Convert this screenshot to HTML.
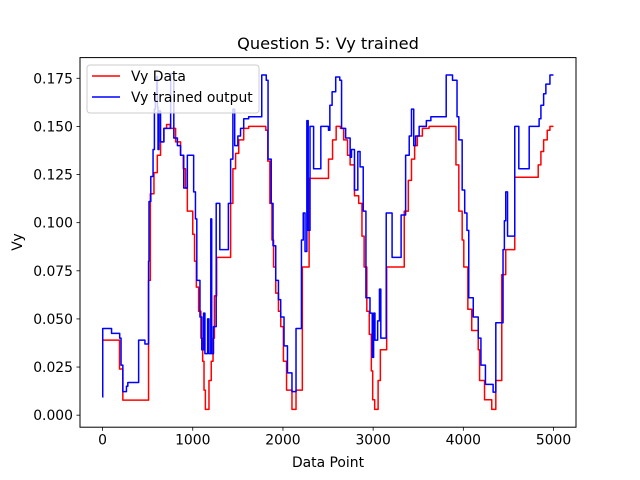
<!DOCTYPE html>
<html><head><meta charset="utf-8"><style>
body{margin:0;background:#fff}
svg{display:block;font-family:"DejaVu Sans","Liberation Sans",sans-serif}
</style></head><body>
<svg id="chart" width="640" height="480">
<rect width="640" height="480" fill="#fff"/>
<text x="328" y="49" font-size="16.2" text-anchor="middle">Question 5: Vy trained</text>
<g id="series"></g>
<g id="axes"></g>
<rect x="80" y="57.6" width="496" height="369.6" fill="none" stroke="#000" stroke-width="1"/>
<text x="328" y="467" font-size="13.9" text-anchor="middle">Data Point</text>
<text x="22" y="242" font-size="13.9" text-anchor="middle" transform="rotate(-90 22 242)">Vy</text>
<g>
<rect x="87" y="65" width="172" height="48" rx="3" fill="#fff" fill-opacity="0.8" stroke="#ccc"/>
<line x1="92" y1="76" x2="120" y2="76" stroke="red" stroke-width="1.5"/>
<text x="131" y="81" font-size="13.9">Vy Data</text>
<line x1="92" y1="97" x2="120" y2="97" stroke="blue" stroke-width="1.5"/>
<text x="131" y="102" font-size="13.9">Vy trained output</text>
</g>
</svg>
<script>
const xTicks=[0,1000,2000,3000,4000,5000];
const yTicks=[0,0.025,0.05,0.075,0.1,0.125,0.15,0.175];
const yTickLabels=["0.000","0.025","0.050","0.075","0.100","0.125","0.150","0.175"];
const redX=[0,188,225,510,530,570,607,643,680,710,750,810,865,895,920,940,1000,1020,1040,1065,1090,1110,1125,1140,1180,1205,1225,1240,1265,1420,1445,1475,1510,1565,1620,1810,1832,1855,1878,1896,1920,1950,1976,2005,2040,2100,2145,2215,2290,2505,2550,2590,2637,2673,2716,2745,2793,2840,2876,2900,2930,2957,2980,2995,3017,3055,3080,3150,3345,3390,3425,3460,3490,3546,3620,3918,3950,3987,4005,4050,4093,4165,4180,4235,4315,4360,4426,4470,4570,4830,4860,4890,4930,4960,4999];
const redY=[0.039,0.024,0.0078,0.07,0.115,0.126,0.135,0.142,0.149,0.151,0.149,0.142,0.135,0.128,0.118,0.106,0.094,0.08,0.0665,0.054,0.04,0.028,0.013,0.003,0.018,0.028,0.04,0.062,0.082,0.11,0.128,0.136,0.143,0.149,0.150,0.148,0.132,0.11,0.091,0.077,0.0634,0.054,0.046,0.028,0.013,0.003,0.013,0.077,0.123,0.133,0.143,0.150,0.149,0.143,0.135,0.130,0.114,0.110,0.093,0.077,0.054,0.042,0.023,0.008,0.003,0.018,0.034,0.077,0.106,0.122,0.133,0.140,0.145,0.149,0.150,0.13,0.106,0.091,0.077,0.055,0.044,0.034,0.018,0.008,0.003,0.018,0.073,0.086,0.1236,0.13,0.137,0.143,0.148,0.150,0.150];
const blueX=[0,2,100,190,205,225,265,280,400,470,510,515,535,560,575,585,600,608,615,625,643,680,755,790,830,865,900,940,1010,1030,1045,1080,1100,1120,1135,1165,1180,1200,1210,1230,1260,1300,1395,1420,1445,1465,1500,1530,1565,1620,1765,1815,1835,1870,1890,1920,1950,1975,2012,2050,2100,2145,2205,2225,2245,2265,2280,2300,2340,2420,2505,2520,2545,2585,2630,2650,2695,2745,2760,2793,2830,2855,2890,2920,2965,2990,3005,3020,3050,3070,3085,3145,3210,3310,3360,3400,3425,3450,3470,3510,3590,3640,3810,3880,3930,3950,3987,4015,4040,4060,4110,4165,4195,4245,4330,4360,4440,4455,4470,4490,4570,4615,4730,4840,4860,4890,4915,4960,4999];
const blueY=[0.0094,0.045,0.0425,0.040,0.026,0.0122,0.015,0.017,0.039,0.037,0.08,0.111,0.124,0.138,0.159,0.167,0.176,0.16,0.138,0.158,0.142,0.149,0.1775,0.144,0.14,0.135,0.118,0.135,0.116,0.102,0.07,0.051,0.034,0.053,0.032,0.05,0.032,0.102,0.032,0.046,0.110,0.086,0.110,0.133,0.159,0.14,0.145,0.149,0.154,0.155,0.1767,0.174,0.133,0.11,0.088,0.070,0.060,0.051,0.036,0.022,0.0122,0.045,0.091,0.105,0.085,0.153,0.096,0.150,0.128,0.150,0.148,0.161,0.168,0.1757,0.174,0.149,0.144,0.134,0.138,0.117,0.137,0.129,0.106,0.061,0.053,0.030,0.053,0.039,0.049,0.0655,0.040,0.105,0.082,0.104,0.135,0.145,0.159,0.14,0.145,0.150,0.153,0.155,0.1767,0.174,0.155,0.143,0.117,0.105,0.096,0.061,0.051,0.040,0.026,0.016,0.012,0.048,0.086,0.101,0.116,0.093,0.150,0.128,0.150,0.154,0.161,0.167,0.172,0.1767,0.1767];

const NS="http://www.w3.org/2000/svg";
const L=80,R=576,T=57.6,B=427.2,xmin=-250,xmax=5249,ymin=-0.00625,ymax=0.18575;
const sx=v=>L+(v-xmin)/(xmax-xmin)*(R-L);
const sy=v=>B-(v-ymin)/(ymax-ymin)*(B-T);
const axes=document.getElementById('axes');
const series=document.getElementById('series');
function mk(tag,attrs,parent){const e=document.createElementNS(NS,tag);for(const k in attrs)e.setAttribute(k,attrs[k]);parent.appendChild(e);return e;}
xTicks.forEach(t=>{
  const l=mk('line',{x1:sx(t),x2:sx(t),y1:B,y2:B+3.5,stroke:'#000','stroke-width':0.8},axes);
  
  
  const tx=mk('text',{x:sx(t),y:B+17.5,'font-size':13.9,'text-anchor':'middle'},axes);
  tx.textContent=String(t);
  
  
});
yTicks.forEach((t,i)=>{
  const l=mk('line',{x1:L-3.5,x2:L,y1:sy(t),y2:sy(t),stroke:'#000','stroke-width':0.8},axes);
  
  
  const tx=mk('text',{x:L-7,y:sy(t)+5,'font-size':13.9,'text-anchor':'end'},axes);
  tx.textContent=yTickLabels[i];
  
  
});
function stepPath(xs,ys){
  let d='M'+sx(xs[0]).toFixed(2)+','+sy(ys[0]).toFixed(2);
  for(let i=1;i<xs.length;i++){
    d+='H'+sx(xs[i]).toFixed(2)+'V'+sy(ys[i]).toFixed(2);
  }
  return d;
}
const pr=mk('path',{d:stepPath(redX,redY),fill:'none',stroke:'red','stroke-width':1.5,'stroke-linejoin':'round'},series);


const pb=mk('path',{d:stepPath(blueX,blueY),fill:'none',stroke:'blue','stroke-width':1.5,'stroke-linejoin':'round'},series);


</script>
</body></html>
